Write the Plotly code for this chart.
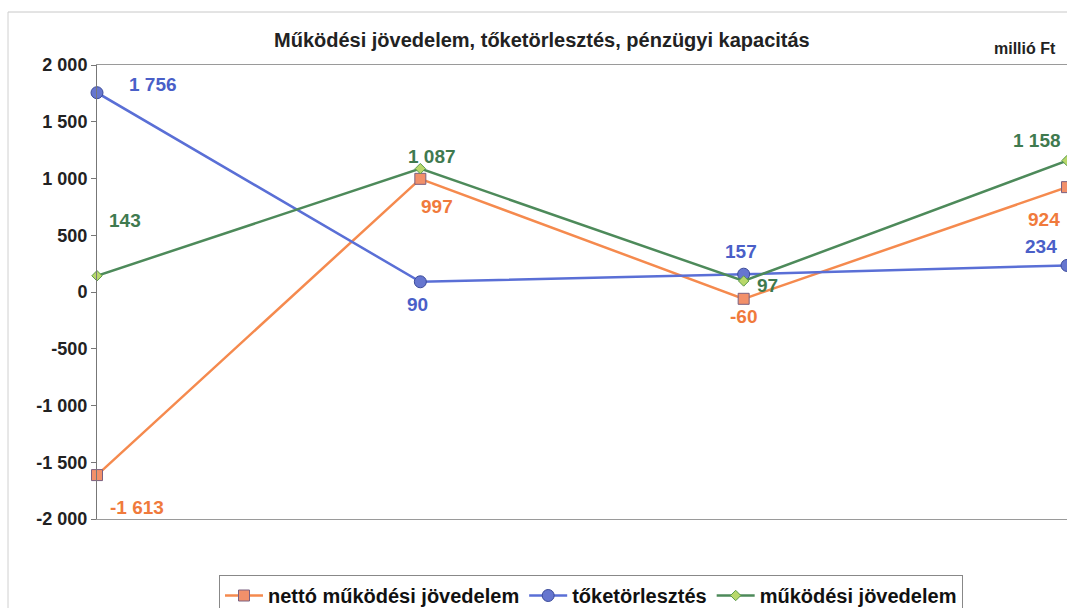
import plotly.graph_objects as go

# Adatok (millió Ft)
periods = ["1", "2", "3", "4"]
netto_mukodesi = [-1613, 997, -60, 924]
toketorlesztes = [1756, 90, 157, 234]
mukodesi = [143, 1087, 97, 1158]

y_ticks = [2000, 1500, 1000, 500, 0, -500, -1000, -1500, -2000]


def hu_num(v):
    s = f"{abs(v):,}".replace(",", " ")
    return ("-" if v < 0 else "") + s


FONT = "Arial, Liberation Sans, sans-serif"
ORANGE = "#f58a4e"
BLUE = "#5a6fd6"
GREEN = "#4d8a5a"

x_idx = list(range(len(periods)))

fig = go.Figure()
fig.add_trace(go.Scatter(
    x=x_idx, y=netto_mukodesi, name="<b>nettó működési jövedelem</b>",
    mode="lines+markers", line=dict(color=ORANGE, width=2.5),
    marker=dict(symbol="square", size=11, color="#f2906a",
                line=dict(color="#7a6080", width=1)),
    cliponaxis=False,
))
fig.add_trace(go.Scatter(
    x=x_idx, y=toketorlesztes, name="<b>tőketörlesztés</b>",
    mode="lines+markers", line=dict(color=BLUE, width=2.5),
    marker=dict(symbol="circle", size=12, color="#6676cf",
                line=dict(color="#3a4a9a", width=1)),
    cliponaxis=False,
))
fig.add_trace(go.Scatter(
    x=x_idx, y=mukodesi, name="<b>működési jövedelem</b>",
    mode="lines+markers", line=dict(color=GREEN, width=2.5),
    marker=dict(symbol="diamond", size=8, color="#b8d86a",
                line=dict(color="#5a9a4a", width=1)),
    cliponaxis=False,
))

# Adatfeliratok: (sorozat, index, szín, x eltolás, y eltolás)
label_specs = [
    (netto_mukodesi, 0, "#f07a3c", 40, -32),
    (netto_mukodesi, 1, "#f07a3c", 17, -28),
    (netto_mukodesi, 2, "#f07a3c", 0, -18),
    (netto_mukodesi, 3, "#f07a3c", -23, -32),
    (toketorlesztes, 0, "#4a5fc8", 56, 8),
    (toketorlesztes, 1, "#4a5fc8", -3, -23),
    (toketorlesztes, 2, "#4a5fc8", -3, 23),
    (toketorlesztes, 3, "#4a5fc8", -26, 19),
    (mukodesi, 0, "#3f7a4f", 28, 55),
    (mukodesi, 1, "#3f7a4f", 12, 12),
    (mukodesi, 2, "#3f7a4f", 24, -5),
    (mukodesi, 3, "#3f7a4f", -30, 20),
]
for series, i, color, dx, dy in label_specs:
    fig.add_annotation(
        x=x_idx[i], y=series[i], text="<b>" + hu_num(series[i]) + "</b>",
        showarrow=False, xshift=dx, yshift=dy,
        font=dict(family=FONT, size=19, color=color),
    )

fig.add_annotation(
    xref="paper", yref="paper", x=(542 - 97) / 970, y=1.0 + (65 - 40) / 454,
    yanchor="middle",
    text="<b>Működési jövedelem, tőketörlesztés, pénzügyi kapacitás</b>",
    showarrow=False, font=dict(family=FONT, size=20, color="#222222"),
)
fig.add_annotation(
    xref="paper", yref="paper", x=(1058 - 97) / 970, y=1.0 + (65 - 48) / 454,
    xanchor="right", yanchor="middle", text="<b>millió Ft</b>",
    showarrow=False, font=dict(family=FONT, size=16, color="#222222"),
)

# Külső keret
fig.add_shape(
    type="line", xref="paper", yref="paper",
    x0=(8 - 97) / 970, x1=1.0, y0=1 + (65 - 12) / 454, y1=1 + (65 - 12) / 454,
    line=dict(color="#c8c8c8", width=1),
)
fig.add_shape(
    type="line", xref="paper", yref="paper",
    x0=(8 - 97) / 970, x1=(8 - 97) / 970, y0=1 + (65 - 12) / 454, y1=(519 - 608) / 454,
    line=dict(color="#d0d0d0", width=1),
)

fig.update_layout(
    width=1067, height=608,
    margin=dict(l=97, r=0, t=65, b=89, autoexpand=False),
    paper_bgcolor="white", plot_bgcolor="white",
    showlegend=True,
    legend=dict(
        orientation="h", x=(591 - 97) / 970, xanchor="center",
        y=(519 - 575) / 454, yanchor="top",
        font=dict(family=FONT, size=20, color="#111111"),
        bordercolor="#888888", borderwidth=1,
        itemwidth=38, tracegroupgap=0,
    ),
    font=dict(family=FONT),
)
fig.update_xaxes(
    range=[0, 3], showticklabels=False, showgrid=False, zeroline=False,
    showline=True, linecolor="#9a9a9a", linewidth=1, mirror=True, ticks="",
)
fig.update_yaxes(
    range=[-2000, 2000], tickvals=y_ticks, ticktext=[f"<b>{hu_num(v)}</b>" for v in y_ticks],
    showgrid=False, zeroline=False,
    showline=True, linecolor="#777777", linewidth=1, mirror=True,
    ticks="outside", ticklen=5, tickcolor="#777777",
    tickfont=dict(family=FONT, size=18, color="#222222"),
)

fig.write_html("out.html")
